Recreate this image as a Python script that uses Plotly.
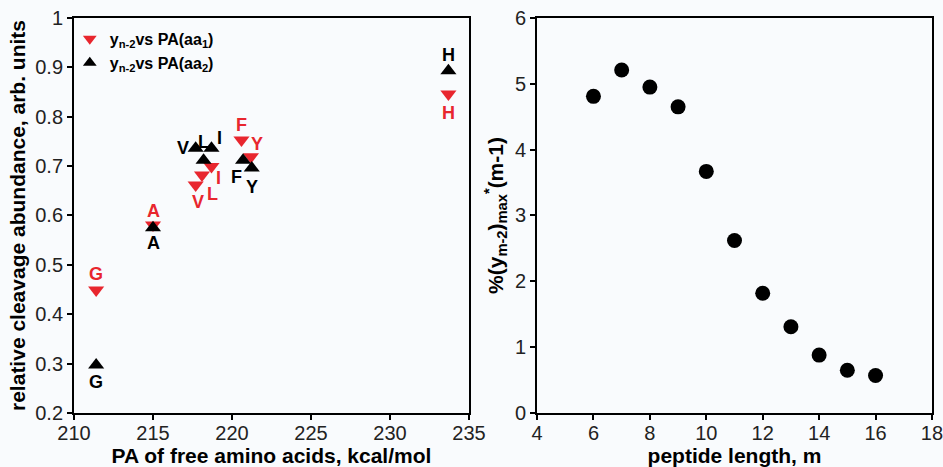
import plotly.graph_objects as go

# Left panel data
aa_labels = ["G", "A", "V", "L", "I", "F", "Y", "H"]
pa_aa1 = [211.4, 215.0, 217.7, 218.1, 218.7, 220.6, 221.2, 233.7]
pa_aa2 = [211.4, 215.0, 217.7, 218.2, 218.7, 220.7, 221.25, 233.7]
aa1_abund = [0.449, 0.581, 0.662, 0.682, 0.699, 0.753, 0.719, 0.846]
aa2_abund = [0.297, 0.575, 0.736, 0.712, 0.736, 0.712, 0.696, 0.893]

# Right panel data
peptide_length = [6, 7, 8, 9, 10, 11, 12, 13, 14, 15, 16]
norm_abund = [4.81, 5.21, 4.95, 4.65, 3.67, 2.62, 1.82, 1.31, 0.88, 0.65, 0.57]

# label offsets (pixels, style only)
aa1_offsets = [(0, 16), (0, 14), (2, -17), (11, -19), (7, -11), (0, 15), (6, 13), (0, -19)]
aa2_offsets = [(0, -17), (0, -15), (-13, 0), (0, 18), (8, 10), (-7, -17), (0, -19), (0, 16)]

RED = "#e8262e"
FONT = "Liberation Sans, Arial, sans-serif"
BG = "#f9fbfd"

fig = go.Figure()

fig.add_trace(go.Scatter(
    x=pa_aa1, y=aa1_abund, mode="markers",
    marker=dict(symbol="triangle-down", size=14, color=RED),
    name="<b>y<sub>n-2</sub>vs PA(aa<sub>1</sub>)</b>",
    xaxis="x", yaxis="y",
))
fig.add_trace(go.Scatter(
    x=pa_aa2, y=aa2_abund, mode="markers",
    marker=dict(symbol="triangle-up", size=14, color="black"),
    name="<b>y<sub>n-2</sub>vs PA(aa<sub>2</sub>)</b>",
    xaxis="x", yaxis="y",
))
fig.add_trace(go.Scatter(
    x=peptide_length, y=norm_abund, mode="markers",
    marker=dict(symbol="circle", size=15, color="black"),
    showlegend=False, xaxis="x2", yaxis="y2",
))

annotations = []
for lab, xv, yv, (dx, dy) in zip(aa_labels, pa_aa1, aa1_abund, aa1_offsets):
    annotations.append(dict(x=xv, y=yv, xref="x", yref="y", text=f"<b>{lab}</b>", showarrow=False,
                            xshift=dx, yshift=dy, font=dict(color=RED, size=18, family=FONT)))
for lab, xv, yv, (dx, dy) in zip(aa_labels, pa_aa2, aa2_abund, aa2_offsets):
    annotations.append(dict(x=xv, y=yv, xref="x", yref="y", text=f"<b>{lab}</b>", showarrow=False,
                            xshift=dx, yshift=dy, font=dict(color="black", size=18, family=FONT)))

axis_common = dict(
    showline=True, linecolor="black", linewidth=2, mirror=True,
    ticks="outside", ticklen=5, tickwidth=2, tickcolor="black",
    showgrid=False, zeroline=False, automargin=False,
    ticklabeloverflow="allow",
    tickfont=dict(size=20, family=FONT, color="#222"),
)
title_font = dict(size=21, family=FONT, color="black")

fig.update_layout(
    width=943, height=467,
    margin=dict(l=0, r=0, t=0, b=0),
    paper_bgcolor=BG, plot_bgcolor=BG,
    font=dict(family=FONT, color="black"),
    annotations=annotations,
    xaxis=dict(domain=[0.0785, 0.4973], range=[210, 235], tickvals=[210, 215, 220, 225, 230, 235],
               title=dict(text="<b>PA of free amino acids, kcal/mol</b>", font=title_font, standoff=0),
               anchor="y", ticklabelstandoff=-4, **axis_common),
    yaxis=dict(domain=[0.1156, 0.9615], range=[0.2, 1.0],
               tickvals=[0.2, 0.3, 0.4, 0.5, 0.6, 0.7, 0.8, 0.9, 1.0],
               ticktext=["0.2", "0.3", "0.4", "0.5", "0.6", "0.7", "0.8", "0.9", "1"],
               title=dict(text="<b>relative cleavage abundance, arb. units</b>", font=title_font, standoff=4),
               anchor="x", **axis_common),
    xaxis2=dict(domain=[0.5695, 0.9883], range=[4, 18], tickvals=[4, 6, 8, 10, 12, 14, 16, 18],
                title=dict(text="<b>peptide length, m</b>", font=title_font, standoff=0),
                anchor="y2", ticklabelstandoff=-4, **axis_common),
    yaxis2=dict(domain=[0.1156, 0.9615], range=[0, 6], tickvals=[0, 1, 2, 3, 4, 5, 6],
                title=dict(text="<b>%(y<sub>m-2</sub>)<sub>max</sub><sup>*</sup>(m-1)</b>", font=title_font, standoff=6),
                anchor="x2", **axis_common),
    legend=dict(x=0.074, y=0.953, xanchor="left", yanchor="top",
                bgcolor="rgba(0,0,0,0)", font=dict(size=16, family=FONT),
                itemsizing="constant", tracegroupgap=0),
)

fig.write_html("out.html")
